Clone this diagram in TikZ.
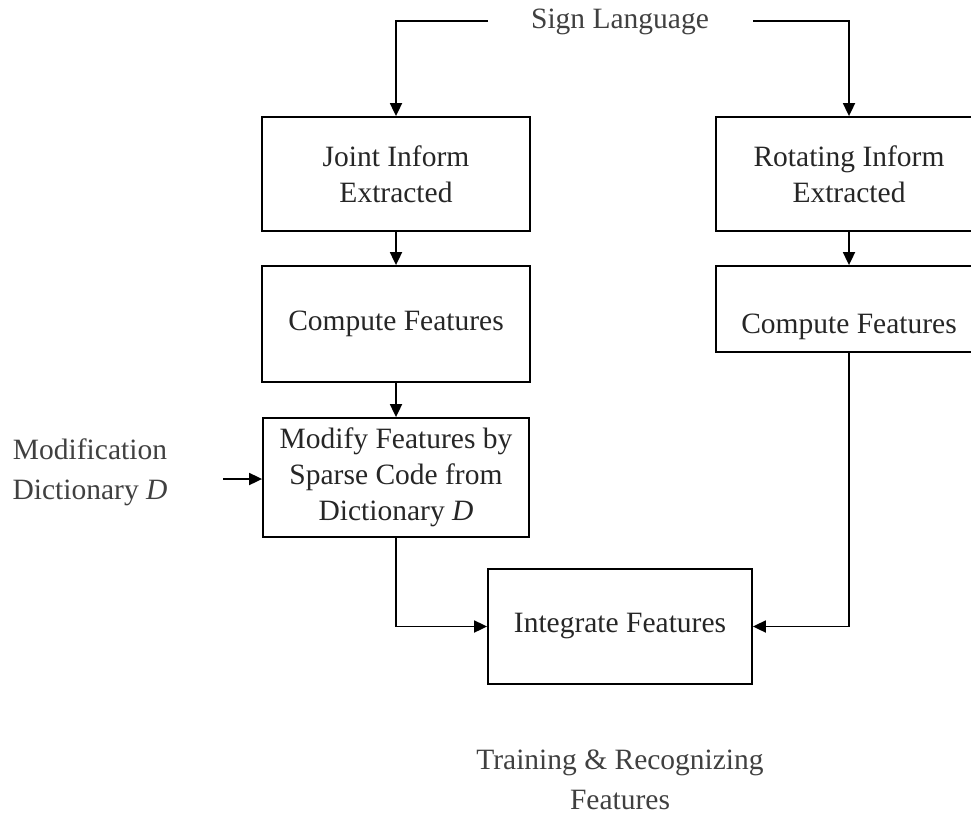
\documentclass[tikz,border=0pt]{standalone}
\usepackage{fontspec}
\setmainfont{Liberation Serif}
\usetikzlibrary{arrows.meta}
\begin{document}
\begin{tikzpicture}[x=1pt,y=-1pt,
  box/.style={draw, line width=1.8pt, inner sep=0pt, align=center, font=\fontsize{29.5}{36}\selectfont, text=black!85},
  lbl/.style={align=center, inner sep=0pt, font=\fontsize{29.5}{40}\selectfont, text=black!75},
  arr/.style={line width=1.8pt, -{Triangle[width=12pt,length=13pt]}},
  ln/.style={line width=1.8pt}]
\useasboundingbox (0,0) rectangle (971,816);
\clip (0,0) rectangle (971,816);
\node[lbl] (sign) at (620,22) {Sign Language};
\node[box, minimum width=268pt, minimum height=114pt] (joint) at (396,174) {Joint Inform\\Extracted};
\node[box, minimum width=268pt, minimum height=116pt] (comp1) at (396,324) {Compute Features};
\node[box, minimum width=266pt, minimum height=119pt] (mod) at (396,477.5) {Modify Features by\\Sparse Code from\\Dictionary \textit{D}};
\node[box, minimum width=266pt, minimum height=114pt] (rot) at (849,174) {Rotating Inform\\Extracted};
\node[box, minimum width=266pt, minimum height=86pt, text height=58pt, text depth=10pt] (comp2) at (849,309) {Compute Features};
\node[box, minimum width=264pt, minimum height=115pt] (integ) at (620,626.5) {Integrate Features};
\node[lbl] (modlbl) at (90,472) {Modification\\Dictionary \textit{D}};
\node[lbl] (train) at (620,780) {Training \& Recognizing\\Features};
\coordinate (sl) at (488,21);
\coordinate (sr) at (753,21);
\coordinate (ma) at (223,479);
\draw[arr] (sl) -| (joint.north);
\draw[arr] (sr) -| (rot.north);
\draw[arr] (joint) -- (comp1);
\draw[arr] (rot) -- (comp2);
\draw[arr] (comp1) -- (mod);
\draw[arr] (ma) -- (mod.west |- ma);
\draw[arr] (mod.south) |- (integ.west);
\draw[arr] (comp2.south) |- (integ.east);
\end{tikzpicture}
\end{document}
